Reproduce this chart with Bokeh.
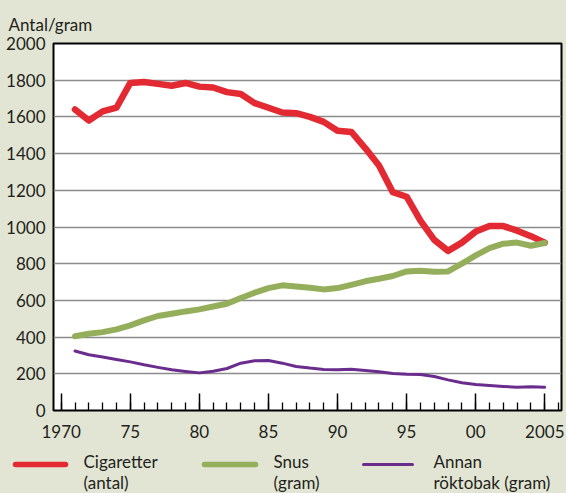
from bokeh.plotting import figure
from bokeh.models import Range1d, FixedTicker, ColumnDataSource
from bokeh.layouts import column
from bokeh.core.properties import value
from bokeh.embed import file_html
from bokeh.resources import INLINE

# ---- data ----
years = [1971, 1972, 1973, 1974, 1975, 1976, 1977, 1978, 1979, 1980,
         1981, 1982, 1983, 1984, 1985, 1986, 1987, 1988, 1989, 1990,
         1991, 1992, 1993, 1994, 1995, 1996, 1997, 1998, 1999, 2000,
         2001, 2002, 2003, 2004, 2005]
cigaretter = [1640, 1580, 1630, 1650, 1785, 1790, 1780, 1770, 1785, 1765,
              1760, 1735, 1725, 1675, 1650, 1624, 1620, 1600, 1573, 1524,
              1518, 1430, 1335, 1190, 1165, 1035, 930, 870, 915, 975,
              1005, 1005, 980, 950, 915]
snus = [405, 418, 427, 442, 464, 491, 515, 527, 540, 551,
        567, 582, 613, 642, 667, 682, 676, 669, 660, 667,
        685, 704, 718, 733, 758, 762, 756, 758, 800, 845,
        885, 909, 915, 898, 913]
annan = [324, 304, 291, 278, 265, 249, 235, 222, 213, 205,
         214, 229, 258, 271, 273, 258, 240, 231, 224, 222,
         225, 218, 211, 202, 198, 196, 185, 167, 151, 142,
         136, 131, 127, 129, 127]

y_ticks = [0, 200, 400, 600, 800, 1000, 1200, 1400, 1600, 1800, 2000]
x_major = [1970, 1975, 1980, 1985, 1990, 1995, 2000, 2005]
x_labels = ["1970", "75", "80", "85", "90", "95", "00", "2005"]
x_minor = [1970, 1971, 1972, 1973, 1974, 1975, 1976, 1977, 1978, 1979,
           1980, 1981, 1982, 1983, 1984, 1985, 1986, 1987, 1988, 1989,
           1990, 1991, 1992, 1993, 1994, 1995, 1996, 1997, 1998, 1999,
           2000, 2001, 2002, 2003, 2004, 2005, 2006]

legend_line1 = ["Cigaretter", "Snus", "Annan"]
legend_line2 = ["(antal)", "(gram)", "röktobak (gram)"]
y_title = "Antal/gram"

# ---- styles ----
BG = "#e2e5d3"
RED = "#e32932"
GREEN = "#94ae5b"
PURPLE = "#6a2d8e"
TXT = "#231f20"
FONT = "Lato"
FS = "17px"

W = 566
H_MAIN = 450
H_LEG = 43

p = figure(width=W, height=H_MAIN, output_backend="svg", toolbar_location=None,
           x_range=Range1d(1969.443, 2006.21), y_range=Range1d(0, 2000),
           title=y_title)
p.frame_align = False
p.min_border_left = 53
p.min_border_right = 5
p.min_border_top = 43
p.min_border_bottom = 40
p.background_fill_color = "white"
p.border_fill_color = BG
p.outline_line_color = "black"
p.outline_line_width = 2

p.title.text_font = FONT
p.title.text_font_size = FS
p.title.text_font_style = "normal"
p.title.text_color = TXT
p.title.align = "left"
p.title.offset = -45
p.title.standoff = 17

# lines
p.line(years, cigaretter, line_color=RED, line_width=6.5, line_join="round", line_cap="round")
p.line(years, snus, line_color=GREEN, line_width=6, line_join="round", line_cap="round")
p.line(years, annan, line_color=PURPLE, line_width=3, line_join="round", line_cap="round")

# y axis
p.yaxis.ticker = FixedTicker(ticks=y_ticks)
p.yaxis.major_tick_in = 0
p.yaxis.major_tick_out = 0
p.yaxis.minor_tick_line_color = None
p.yaxis.axis_line_color = None
p.yaxis.major_label_standoff = 8
p.yaxis.major_label_text_font = FONT
p.yaxis.major_label_text_font_size = FS
p.yaxis.major_label_text_color = TXT

# x axis
p.xaxis.ticker = FixedTicker(ticks=x_major, minor_ticks=x_minor)
p.xaxis.major_label_overrides = {int(k): v for k, v in zip(x_major, x_labels)}
p.xaxis.major_tick_in = 17
p.xaxis.major_tick_out = 0
p.xaxis.minor_tick_in = 8
p.xaxis.minor_tick_out = 0
p.xaxis.major_tick_line_color = "black"
p.xaxis.minor_tick_line_color = "black"
p.xaxis.major_tick_line_width = 1.5
p.xaxis.minor_tick_line_width = 1.3
p.xaxis.axis_line_color = None
p.xaxis.major_label_standoff = 14
p.xaxis.major_label_text_font = FONT
p.xaxis.major_label_text_font_size = FS
p.xaxis.major_label_text_color = TXT

p.xgrid.grid_line_color = None
p.ygrid.ticker = FixedTicker(ticks=y_ticks)
p.ygrid.grid_line_color = "#8c8c8c"
p.ygrid.grid_line_width = 1.3

# ---- legend figure ----
lg = figure(width=W, height=H_LEG, output_backend="svg", toolbar_location=None,
            x_range=Range1d(0, W), y_range=Range1d(H_LEG, 0),
            x_axis_location=None, y_axis_location=None)
lg.frame_align = False
lg.min_border_left = 0
lg.min_border_right = 0
lg.min_border_top = 0
lg.min_border_bottom = 0
lg.grid.visible = False
lg.outline_line_color = None
lg.background_fill_color = BG
lg.border_fill_color = BG

leg_x0 = [15, 204, 363]
leg_x1 = [65, 255, 412]
leg_tx = [83, 273, 433]
leg_colors = [RED, GREEN, PURPLE]
leg_widths = [5.5, 5.5, 3]
line_y = 14
row1_y = 11
row2_y = 32

for x0, x1, c, w in zip(leg_x0, leg_x1, leg_colors, leg_widths):
    lg.line([x0, x1], [line_y, line_y], line_color=c, line_width=w, line_cap="round")

src = ColumnDataSource(dict(x=leg_tx + leg_tx,
                            y=[row1_y] * 3 + [row2_y] * 3,
                            t=legend_line1 + legend_line2))
lg.text(x="x", y="y", text="t", source=src, text_font=value(FONT),
        text_font_size=FS, text_color=TXT, text_baseline="middle", text_align="left")

layout = column(p, lg, spacing=0)
layout.styles = {"background-color": BG}

open("out.html", "w").write(file_html(layout, INLINE))
